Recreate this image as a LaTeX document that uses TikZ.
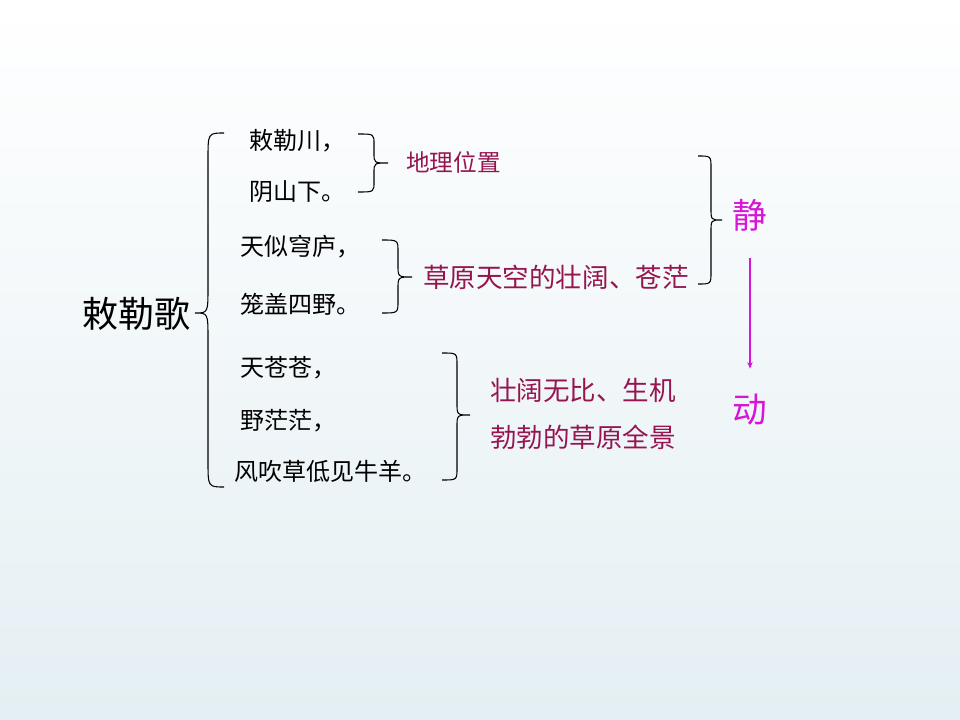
\documentclass[tikz,border=0pt]{standalone}
\usepackage{fontspec}
\setmainfont{Noto Sans CJK SC}
\usetikzlibrary{arrows.meta}
\definecolor{note}{RGB}{150,20,80}
\definecolor{mag}{RGB}{215,20,215}
\definecolor{bgbot}{RGB}{228,239,243}
\tikzset{
  br/.style={draw=black, line width=0.8pt},
  poem/.style={inner sep=0pt, anchor=west, text=black, font=\fontsize{18pt}{18pt}\selectfont},
  title/.style={inner sep=0pt, text=black, font=\fontsize{27pt}{27pt}\selectfont},
  notesmall/.style={inner sep=0pt, anchor=west, text=note, font=\fontsize{17.7pt}{17.7pt}\selectfont},
  notetext/.style={inner sep=0pt, anchor=west, text=note, font=\fontsize{19.9pt}{19.9pt}\selectfont},
  magtext/.style={inner sep=0pt, text=mag, font=\fontsize{26pt}{26pt}\selectfont},
}
% #1 end x, #2 spine x, #3 tip x, #4 top y, #5 mid y, #6 bottom y, #7 corner size
\newcommand\mybrace[7]{%
  \draw[br] (#1,#4) .. controls (#2,#4) .. (#2,{#4+#7}) -- (#2,{#5-#7})
    .. controls (#2,#5) .. (#3,#5) .. controls (#2,#5) .. (#2,{#5+#7})
    -- (#2,{#6-#7}) .. controls (#2,#6) .. (#1,#6);}
\begin{document}
\begin{tikzpicture}[x=0.75pt,y=-0.75pt]
\shade[top color=white, bottom color=bgbot] (0,0) rectangle (960,720);
\useasboundingbox (0,0) rectangle (960,720);

\node[title] (ttl) at (136,314) {敕勒歌};

\node[poem] (l1) at (249,141) {敕勒川，};
\node[poem] (l2) at (249,192) {阴山下。};
\node[poem] (l3) at (240,247) {天似穹庐，};
\node[poem] (l4) at (240,304) {笼盖四野。};
\node[poem] (l5) at (240,368) {天苍苍，};
\node[poem] (l6) at (240,421) {野茫茫，};
\node[poem] (l7) at (234,471) {风吹草低见牛羊。};

\node[notesmall] (n1) at (406,162) {地理位置};
\node[notetext] (n2) at (423,277) {草原天空的壮阔、苍茫};
\node[notetext] (n3) at (490,390) {壮阔无比、生机};
\node[notetext] (n4) at (490,437) {勃勃的草原全景};

\node[magtext] (jing) at (750,215) {静};
\node[magtext] (dong) at (750,410) {动};

% braces
\mybrace{224}{208}{195}{133}{313}{487}{26}
\mybrace{358}{374}{388}{134}{163}{192}{10}
\mybrace{382}{398}{412}{240}{277}{313}{12}
\mybrace{442}{457}{470}{353}{415}{480}{12}
\mybrace{698}{711}{722}{156}{220}{284}{12}

\draw[mag, line width=1pt, -{Stealth[length=5pt,width=4pt]},
      shorten <=20pt, shorten >=19pt] (jing.south) -- (dong.north);
\end{tikzpicture}
\end{document}
